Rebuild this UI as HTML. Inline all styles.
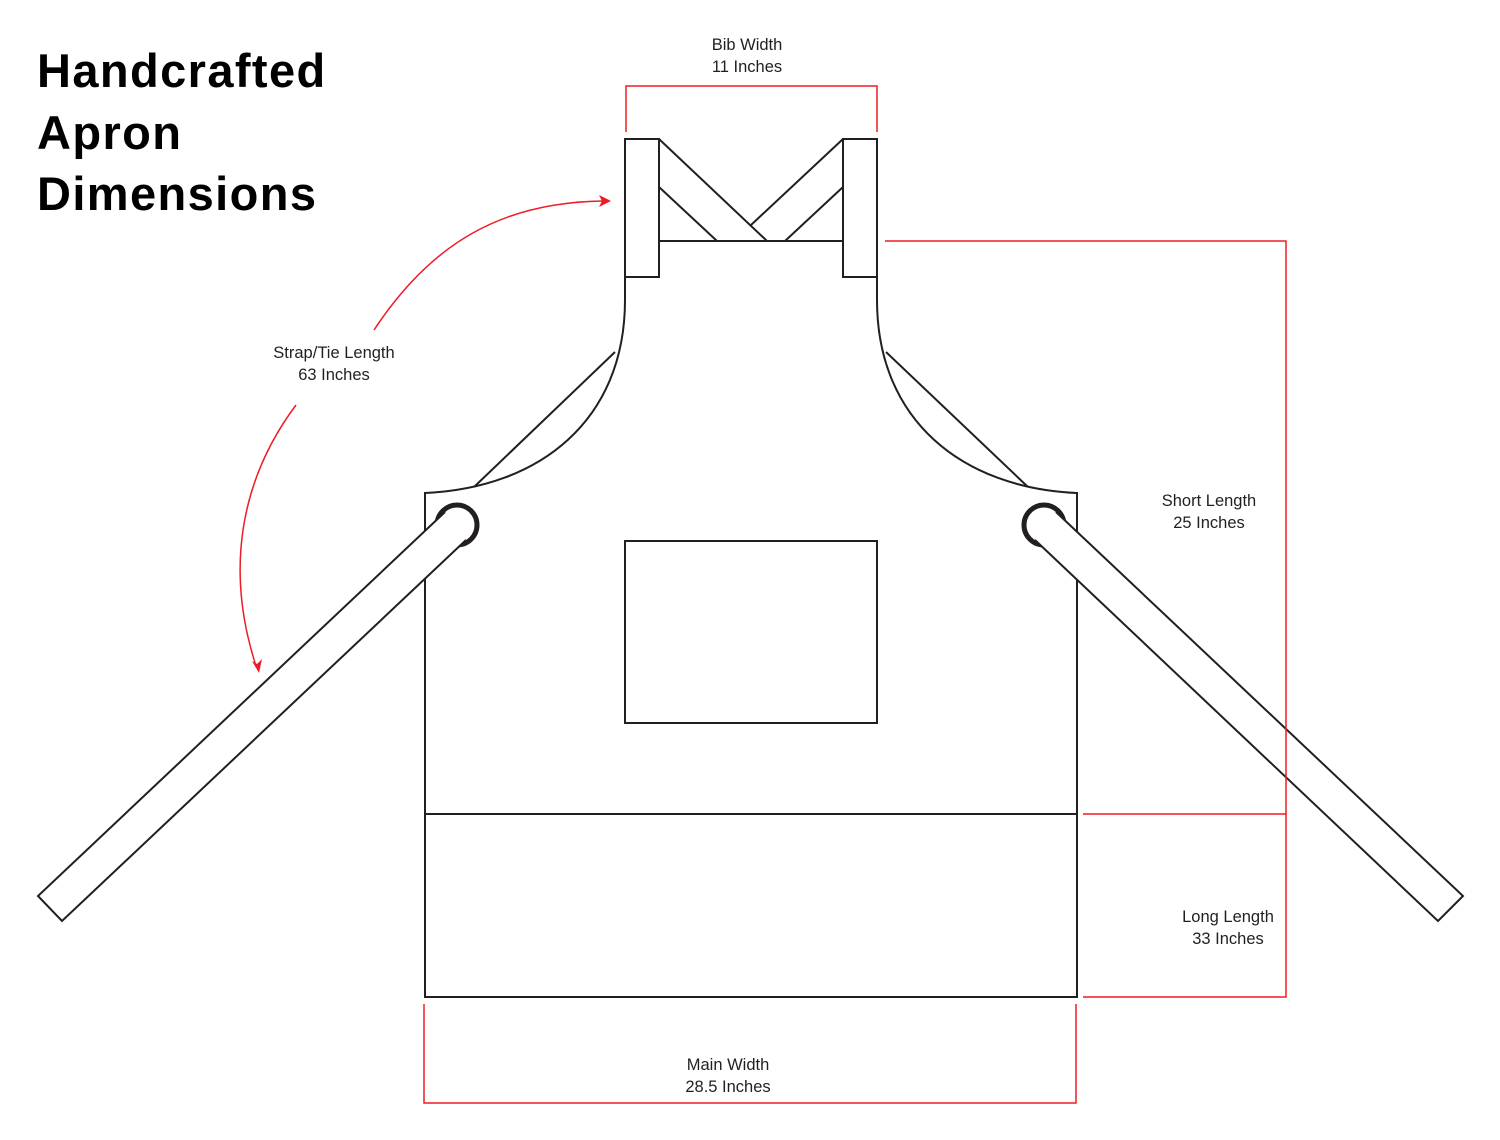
<!DOCTYPE html>
<html><head><meta charset="utf-8"><style>
html,body{margin:0;padding:0;background:#fff}
svg{display:block}
text{font-family:"Liberation Sans",sans-serif}
</style></head><body>
<svg width="1500" height="1140" viewBox="0 0 1500 1140" xmlns="http://www.w3.org/2000/svg">
<rect width="1500" height="1140" fill="#fff"/>
<g font-weight="bold" font-size="47" fill="#000" letter-spacing="1.4">
<text x="37" y="87">Handcrafted</text>
<text x="37" y="149">Apron</text>
<text x="37" y="210">Dimensions</text>
</g>
<g fill="none" stroke="#231f20" stroke-width="2">
<rect x="625" y="139" width="34" height="138"/>
<rect x="843" y="139" width="34" height="138"/>
<line x1="659" y1="241" x2="843" y2="241"/>
<line x1="659" y1="139" x2="767" y2="241"/>
<line x1="659" y1="187" x2="717" y2="241"/>
<line x1="843" y1="139" x2="751" y2="225"/>
<line x1="843" y1="187" x2="785" y2="241"/>
<path d="M625,277 L625,300 C625,420 540,488 425,493 L425,997 L1077,997 L1077,493 C962,488 877,420 877,300 L877,277"/>
<line x1="615" y1="352" x2="474" y2="487"/>
<line x1="886" y1="352" x2="1028" y2="487"/>
<line x1="425" y1="814" x2="1077" y2="814"/>
<rect x="625" y="541" width="252" height="182"/>
</g>
<circle cx="457" cy="525" r="20" fill="none" stroke="#231f20" stroke-width="5"/>
<circle cx="1044" cy="525" r="20" fill="none" stroke="#231f20" stroke-width="5"/>
<g stroke="#231f20" stroke-width="2" fill="#fff">
<path d="M445,512 L38,896 L62,921 L466,540 Z" stroke="none"/>
<path d="M445,512 L38,896 L62,921 L466,540"/>
<path d="M1056,512 L1463,896 L1438,921 L1035,540 Z" stroke="none"/>
<path d="M1056,512 L1463,896 L1438,921 L1035,540"/>
</g>
<g fill="none" stroke="#ed1c24" stroke-width="1.5">
<path d="M626,132 L626,86 L877,86 L877,132"/>
<path d="M885,241 L1286,241 L1286,997 L1083,997"/>
<path d="M1083,814 L1286,814"/>
<path d="M424,1004 L424,1103 L1076,1103 L1076,1004"/>
<path d="M374,330 C430,245 500,202 604,201"/>
<path d="M296,405 C240,480 225,570 256,666"/>
</g>
<g fill="#ed1c24">
<polygon points="611,201 599,195 602,201 599,207"/>
<polygon points="259,673 252,661 257,664 262,659"/>
</g>
<g font-size="16.5" fill="#231f20" text-anchor="middle">
<text x="747" y="50">Bib Width</text>
<text x="747" y="72">11 Inches</text>
<text x="334" y="358">Strap/Tie Length</text>
<text x="334" y="380">63 Inches</text>
<text x="1209" y="506">Short Length</text>
<text x="1209" y="528">25 Inches</text>
<text x="1228" y="922">Long Length</text>
<text x="1228" y="944">33 Inches</text>
<text x="728" y="1070">Main Width</text>
<text x="728" y="1092">28.5 Inches</text>
</g>
</svg>
</body></html>
